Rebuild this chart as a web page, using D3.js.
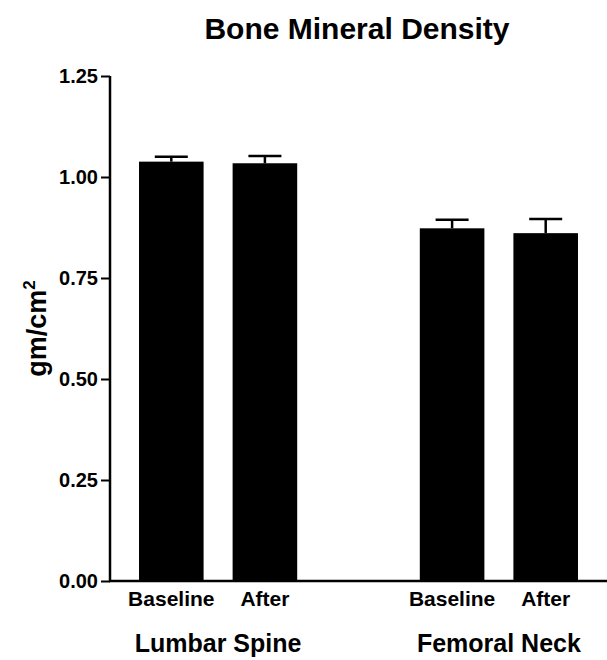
<!DOCTYPE html>
<html>
<head>
<meta charset="utf-8">
<script src="https://cdn.jsdelivr.net/npm/d3@7"></script>
<style>
  body { margin: 0; background: #fff; }
  text { font-family: "Liberation Sans", Arial, sans-serif; font-weight: bold; fill: #000; }
</style>
</head>
<body>
<div id="chart"></div>
<script>
// data
var groups = ['Lumbar Spine', 'Femoral Neck']
var conditions = ['Baseline', 'After']
var means = [[1.038, 1.034], [0.873, 0.861]]
var sems = [[0.012, 0.018], [0.021, 0.035]]
var yTicks = [0, 0.25, 0.5, 0.75, 1.0, 1.25]

var width = 607, height = 660

// flatten to slots, with an empty slot between the two groups
var slots = []
var bars = []
groups.forEach(function(g, gi) {
  if (gi > 0) slots.push('gap')
  conditions.forEach(function(c, ci) {
    var key = g + '|' + c
    slots.push(key)
    bars.push({key: key, group: g, cond: c, value: means[gi][ci], err: sems[gi][ci]})
  })
})

var svg = d3.select('#chart')
  .append('svg')
  .attr('width', width)
  .attr('height', height)

var x = d3.scaleBand()
  .domain(slots)
  .range([110, 607])
  .paddingInner(0.31)
  .paddingOuter(0.31)

var y = d3.scaleLinear()
  .domain([0, 1.25])
  .range([581, 76])

// bars
svg.selectAll('.bar')
  .data(bars)
  .enter()
  .append('rect')
  .attr('class', 'bar')
  .attr('x', d => x(d.key))
  .attr('y', d => y(d.value))
  .attr('width', x.bandwidth())
  .attr('height', d => y(0) - y(d.value))
  .attr('fill', '#000')

// error bars (upper only)
var err = svg.selectAll('.err')
  .data(bars)
  .enter()
  .append('g')
  .attr('class', 'err')
  .attr('stroke', '#000')
  .attr('stroke-width', 2.5)

err.append('line')
  .attr('x1', d => x(d.key) + x.bandwidth() / 2)
  .attr('x2', d => x(d.key) + x.bandwidth() / 2)
  .attr('y1', d => y(d.value))
  .attr('y2', d => y(d.value + d.err))

err.append('line')
  .attr('x1', d => x(d.key) + x.bandwidth() / 2 - 16.5)
  .attr('x2', d => x(d.key) + x.bandwidth() / 2 + 16.5)
  .attr('y1', d => y(d.value + d.err))
  .attr('y2', d => y(d.value + d.err))

// y axis
var yAxis = svg.append('g')
  .attr('transform', 'translate(110,0)')
  .call(d3.axisLeft(y).tickValues(yTicks).tickFormat(d3.format('.2f')).tickSize(9).tickPadding(3))
yAxis.select('.domain').attr('stroke-width', 2.5).attr('d', 'M0,' + y(1.25) + 'V' + y(0))
yAxis.selectAll('.tick line').attr('stroke-width', 2)
yAxis.selectAll('.tick text')
  .style('font-size', '20px')
  .style('font-family', '"Liberation Sans", Arial, sans-serif')
  .style('font-weight', 'bold')

// x axis line
svg.append('line')
  .attr('x1', 109)
  .attr('x2', 607)
  .attr('y1', y(0))
  .attr('y2', y(0))
  .attr('stroke', '#000')
  .attr('stroke-width', 2.5)

// condition labels
svg.selectAll('.cond')
  .data(bars)
  .enter()
  .append('text')
  .attr('class', 'cond')
  .attr('x', d => x(d.key) + x.bandwidth() / 2)
  .attr('y', 606)
  .attr('text-anchor', 'middle')
  .style('font-size', '21px')
  .text(d => d.cond)

// group labels
svg.selectAll('.grp')
  .data(groups)
  .enter()
  .append('text')
  .attr('class', 'grp')
  .attr('x', g => (x(g + '|Baseline') + x(g + '|After') + x.bandwidth()) / 2)
  .attr('y', 652)
  .attr('text-anchor', 'middle')
  .style('font-size', '25px')
  .text(g => g)

// title
svg.append('text')
  .attr('x', 357)
  .attr('y', 39)
  .attr('text-anchor', 'middle')
  .style('font-size', '30px')
  .text('Bone Mineral Density')

// y label
var yl = svg.append('text')
  .attr('transform', 'translate(46,' + ((y(0) + y(1.25)) / 2) + ') rotate(-90)')
  .attr('text-anchor', 'middle')
  .style('font-size', '27px')
yl.append('tspan').text('gm/cm')
yl.append('tspan').attr('dy', -11).style('font-size', '17px').text('2')
</script>
</body>
</html>
